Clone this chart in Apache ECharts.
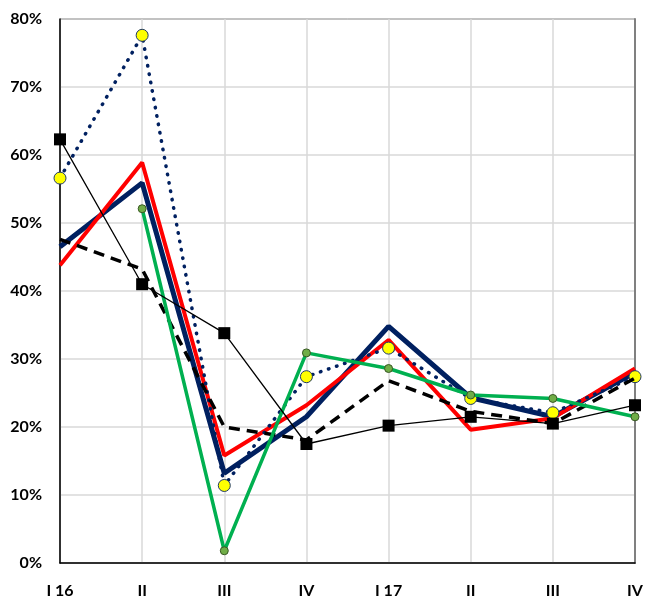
<!DOCTYPE html>
<html>
<head>
<meta charset="utf-8">
<script src="https://cdn.jsdelivr.net/npm/echarts@6/dist/echarts.min.js"></script>
<style>html,body{margin:0;padding:0;background:#fff}#c{width:646px;height:597px}</style>
</head>
<body>
<div id="c"></div>
<script>
const categories = ['I 16', 'II', 'III', 'IV', 'I 17', 'II', 'III', 'IV'];
const yTicks = [0, 10, 20, 30, 40, 50, 60, 70, 80];
const navySolid = [46.5, 55.9, 13.2, 21.5, 34.8, 24.3, 21.5, 28.0];
const redSolid = [43.8, 58.9, 15.8, 23.2, 32.8, 19.6, 21.3, 28.6];
const greenLine = [null, 52.1, 1.8, 30.9, 28.6, 24.7, 24.2, 21.5];
const yellowDotted = [56.6, 77.6, 11.4, 27.4, 31.6, 24.2, 22.1, 27.4];
const blackDashed = [47.6, 43.2, 20.0, 18.1, 26.8, 22.3, 20.5, 27.2];
const blackSquares = [62.3, 41.0, 33.8, 17.5, 20.2, 21.5, 20.5, 23.2];

const chart = echarts.init(document.getElementById('c'));
const font = 'Lato, "Open Sans", sans-serif';
chart.setOption({
  animation: false,
  grid: { left: 60, right: 11, top: 19, bottom: 34, show: true, borderColor: '#000', borderWidth: 1,
          containLabel: false, outerBoundsMode: 'none' },
  xAxis: {
    type: 'category', data: categories, boundaryGap: false,
    axisLine: { lineStyle: { color: '#000', width: 1.5 } },
    axisTick: { show: false },
    axisLabel: { color: '#000', fontWeight: 'bold', fontSize: 16, fontFamily: font, margin: 20 },
    splitLine: { show: true, lineStyle: { color: '#d9d9d9', width: 1.5 } }
  },
  yAxis: [{
    type: 'value', min: yTicks[0], max: yTicks[yTicks.length - 1], interval: 10,
    axisLine: { show: true, lineStyle: { color: '#000', width: 1.5 } },
    axisTick: { show: false },
    axisLabel: { color: '#000', fontWeight: 'bold', fontSize: 16, fontFamily: font, margin: 18, formatter: '{value}%' },
    splitLine: { lineStyle: { color: '#d9d9d9', width: 1.5 } }
  }, {
    type: 'value', position: 'right', min: 0, max: 80, interval: 10,
    axisLine: { show: true, lineStyle: { color: '#808080', width: 2 } },
    axisTick: { show: false }, axisLabel: { show: false }, splitLine: { show: false }
  }],
  series: [
    { type: 'line', data: navySolid, symbol: 'none', z: 2,
      lineStyle: { color: '#002060', width: 5 } },
    { type: 'line', data: redSolid, symbol: 'none', z: 3,
      lineStyle: { color: '#ff0000', width: 4 } },
    { type: 'line', data: yellowDotted, z: 4, symbol: 'circle', symbolSize: 12,
      itemStyle: { color: '#ffff00', borderColor: '#1f3864', borderWidth: 1 },
      lineStyle: { color: '#002060', width: 3.5, type: [0.5, 8], cap: 'round' } },
    { type: 'line', data: blackDashed, symbol: 'none', z: 5,
      lineStyle: { color: '#000', width: 3.5, type: [11, 7] } },
    { type: 'line', data: greenLine, z: 6, symbol: 'circle', symbolSize: 8,
      itemStyle: { color: '#70ad47', borderColor: '#385723', borderWidth: 1 },
      lineStyle: { color: '#00b050', width: 3.5 } },
    { type: 'line', data: blackSquares, z: 7, symbol: 'rect', symbolSize: 12,
      itemStyle: { color: '#000' },
      lineStyle: { color: '#000', width: 1.3 } }
  ]
});
</script>
</body>
</html>
